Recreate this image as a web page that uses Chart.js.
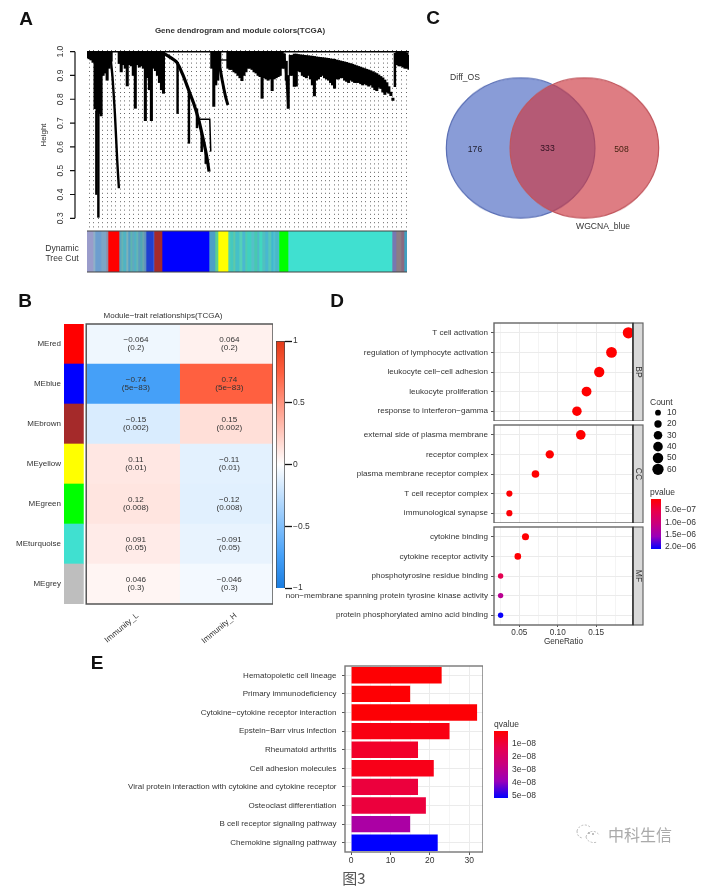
<!DOCTYPE html>
<html>
<head>
<meta charset="utf-8">
<title>图3</title>
<script src="https://cdn.jsdelivr.net/npm/chart.js@4/dist/chart.umd.min.js"></script>
<style>
  html, body { margin: 0; padding: 0; background: #fff; }
  #page { position: relative; width: 714px; height: 892px; overflow: hidden; filter: blur(.35px); }
  #page canvas { position: absolute; }
  .lbl { position: absolute; white-space: nowrap; font-family: "Liberation Sans", Arial, sans-serif; color: #333; line-height: 1; }
</style>
</head>
<body>
<div id="page"></div>
<script>
// A: dendrogram heights, every 2 positions
const dendroX = [0,2,4,6,8,10,12,14,16,18,20,22,24,
  32,34,36,38,40,42,44,46,48,50,52,54,56,58,60,62,64,66,68,70,72,74,76,
  124,126,128,130,132,
  140,142,144,146,148,150,152,154,156,158,160,162,164,166,168,170,172,174,176,178,180,182,184,186,188,190,192,194,196,198,200,202,204,
  206,208,210,212,214,216,218,220,222,224,226,228,230,232,234,236,238,240,242,244,246,248,250,252,254,256,258,260,262,264,266,268,270,272,274,276,278,280,282,284,286,288,290,292,294,296,298,300,302,304,
  308,310,312,314,316,318,320];
const dendroHigh = [1,1,1,1,1,1,1,1,1,1,1,1,1,
  1,1,1,1,1,1,1,1,1,1,1,1,1,1,1,1,1,1,1,1,1,1,1,
  1,1,1,1,1,
  1,1,1,1,1,1,1,1,1,1,1,1,1,1,1,1,1,1,1,1,1,1,1,1,1,1,1,1,.99,.96,.9,.985,.985,
  .99,.99,.988,.987,.986,.985,.984,.983,.982,.981,.98,.978,.977,.976,.975,.974,.973,.972,.97,.969,.968,.965,.963,.961,.959,.957,.955,.952,.95,.947,.944,.941,.938,.935,.932,.929,.926,.923,.92,.916,.912,.908,.902,.896,.89,.881,.87,.853,.83,.805,
  1,1,1,1,1,.995,.985];
const dendroLow = [.975,.97,.965,.955,.76,.75,.74,.73,.9,.91,.88,.93,.96,
  .95,.915,.945,.93,.856,.945,.94,.9,.762,.945,.935,.94,.93,.71,.89,.84,.71,.93,.92,.9,.87,.84,.825,
  .93,.77,.86,.88,.94,
  .93,.925,.925,.915,.91,.9,.89,.878,.9,.915,.93,.93,.925,.915,.91,.9,.895,.804,.89,.885,.88,.885,.836,.885,.89,.895,.9,.93,.93,.88,.762,.9,.9,
  .854,.855,.92,.915,.9,.895,.89,.9,.885,.86,.814,.88,.885,.895,.9,.89,.885,.88,.87,.86,.846,.885,.885,.89,.89,.88,.875,.87,.88,.875,.87,.87,.87,.865,.86,.865,.86,.855,.86,.85,.84,.836,.85,.845,.83,.82,.83,.825,.815,.795,
  .945,.94,.94,.935,.93,.93,.925];
// long single branches hanging off the tree
const spikeX = [9.3,11.3,90,101.3,109.3,114,118,306];
const spikeHigh = [.75,.75,.955,.84,.76,.66,.58,.993];
const spikeLow = [.4,.304,.74,.615,.68,.58,.53,.853];
// curved branches: positions and heights
const branchLeftX = [23.3,25.3,27.7,30,31.7];
const branchLeftH = [.979,.895,.741,.545,.426];
const branchMidX = [76,82.7,89.3,95.3,101,106,111,116,119.3,121.3];
const branchMidH = [.993,.976,.955,.902,.839,.783,.713,.622,.552,.496];
const branchHookX = [111,122,123];
const branchHookH = [.716,.716,.58];
const branchRightX = [130,134.3,137.7,140];
const branchRightH = [.986,.881,.811,.776];
const branchBarX = [132.7,146];
const branchBarH = [.965,.965];
const branchWedgeX = [196,198,200];
const branchWedgeH = [.993,.895,.762];
const heightTicks = [.3,.4,.5,.6,.7,.8,.9,1];
// A: module colour strip, widths along the tree
const treeCutWidths = [6,2,6,5,2,11,
  2,2,3,2,2,2,2,2,2,2,2,2,2,
  7,1,8,47,6,3,10,
  2,3,2,4,3,3,2,4,3,3,2,3,3,3,3,2,2,3,1,9,104,4,5,3,3];
const treeCutColors = ['#9a9ccb','#8fb0c8','#6d9ecf','#7ca5c7','#8d8fa8','#ff0000',
  '#5aa5bf','#66b4b4','#4fb3c4','#7fb0b8','#4f9fc8','#5fb4b0','#60a8c0','#4fb3c4','#66b4b4','#5c9cc0','#4fa8b4','#6aa5b0','#5f8fc0',
  '#1f3fd0','#4a60d0','#a52a2a','#0000ff','#4c9fc8','#5ccf90','#ffff00',
  '#50d0b0','#45c8c0','#60c8a8','#45c0c8','#55d0b8','#4ab8d0','#50ccb0','#40d0c0','#55c0c8','#48c8b0','#50b8c8','#40d8c0','#50c0c0','#48b8d0','#55c8b8','#40b8d0','#50c0d0','#4ab8c8','#48c0c8','#00ff00','#40e0d0','#7878b0','#8d7d85','#8a6a80','#40a0c0'];

// B: module-trait heatmap
const modules = ['MEred','MEblue','MEbrown','MEyellow','MEgreen','MEturquoise','MEgrey'];
const moduleColors = ['#ff0000','#0000ff','#a52a2a','#ffff00','#00ff00','#40e0d0','#bebebe'];
const traits = ['Immunity_L','Immunity_H'];
const corrL = [-.064,-.74,-.15,.11,.12,.091,.046];
const corrH = [.064,.74,.15,-.11,-.12,-.091,-.046];
const corrTextL = ['−0.064','−0.74','−0.15','0.11','0.12','0.091','0.046'];
const corrTextH = ['0.064','0.74','0.15','−0.11','−0.12','−0.091','−0.046'];
const pTextB = ['(0.2)','(5e−83)','(0.002)','(0.01)','(0.008)','(0.05)','(0.3)'];
const corrTicks = [-1,-.5,0,.5,1];

// C: venn
const vennSets = ['Diff_OS','WGCNA_blue'];
const vennCounts = [176,333,508];

// D: enrichment dot plot, one set of arrays per facet
const bpTerms = ['T cell activation','regulation of lymphocyte activation','leukocyte cell−cell adhesion','leukocyte proliferation','response to interferon−gamma'];
const bpRatio = [.192,.170,.154,.1375,.125];
const bpCount = [60,53,48,43,39];
const bpP = [1e-12,2e-12,3e-12,5e-12,1e-11];
const ccTerms = ['external side of plasma membrane','receptor complex','plasma membrane receptor complex','T cell receptor complex','immunological synapse'];
const ccRatio = [.130,.0896,.071,.037,.037];
const ccCount = [41,28,22,12,12];
const ccP = [1e-10,5e-10,1e-9,2e-8,4e-8];
const mfTerms = ['cytokine binding','cytokine receptor activity','phosphotyrosine residue binding','non−membrane spanning protein tyrosine kinase activity','protein phosphorylated amino acid binding'];
const mfRatio = [.058,.048,.0256,.0256,.0256];
const mfCount = [18,15,8,8,8];
const mfP = [1e-8,2e-8,5.5e-7,1.2e-6,2.05e-6];
const ratioTicks = [.025,.05,.075,.1,.125,.15,.175];
const countLevels = [10,20,30,40,50,60];
const pTicks = [5e-7,1e-6,1.5e-6,2e-6];
const pTickText = ['5.0e−07','1.0e−06','1.5e−06','2.0e−06'];

// E: KEGG bars
const keggTerms = ['Hematopoietic cell lineage','Primary immunodeficiency','Cytokine−cytokine receptor interaction','Epstein−Barr virus infection','Rheumatoid arthritis','Cell adhesion molecules','Viral protein interaction with cytokine and cytokine receptor','Osteoclast differentiation','B cell receptor signaling pathway','Chemokine signaling pathway'];
const keggCount = [23,15,32,25,17,21,17,19,15,22];
const keggQ = [5e-10,7e-10,9e-10,3e-9,7e-9,4e-9,1e-8,1e-8,3.4e-8,5.15e-8];
const qTicks = [1e-8,2e-8,3e-8,4e-8,5e-8];
const qTickText = ['1e−08','2e−08','3e−08','4e−08','5e−08'];

Chart.defaults.animation = false;
Chart.defaults.responsive = false;
Chart.defaults.font.family = '"Liberation Sans", Arial, sans-serif';
Chart.defaults.color = '#333';
Chart.defaults.plugins.legend.display = false;
Chart.defaults.plugins.tooltip.enabled = false;

const page = document.getElementById('page');

function label(text, x, y, o) {
  o = o || {};
  const el = document.createElement('div');
  el.className = 'lbl';
  el.textContent = text;
  el.style.left = x + 'px';
  el.style.top = y + 'px';
  el.style.fontSize = (o.size || 9) + 'px';
  if (o.color) el.style.color = o.color;
  if (o.bold) el.style.fontWeight = 'bold';
  if (o.family) el.style.fontFamily = o.family;
  el.style.transform = 'translate(' + (o.shift || '-50%') + ',-50%) rotate(' + (o.rot || 0) + 'deg)';
  page.appendChild(el);
}

// fixes a scale's band so the plot area lands where we want it
const fixSize = n => s => {
  if (s.isHorizontal()) s.height = n; else s.width = n;
  s.paddingLeft = s.paddingRight = s.paddingTop = s.paddingBottom = 0;
};

// a = plot area in page pixels, m = room around it for axes
function addChart(a, m, cfg) {
  const c = document.createElement('canvas');
  c.width = a.r - a.l + m.l + m.r;
  c.height = a.b - a.t + m.t + m.b;
  c.style.left = (a.l - m.l) + 'px';
  c.style.top = (a.t - m.t) + 'px';
  page.appendChild(c);
  cfg.options = cfg.options || {};
  cfg.options.maintainAspectRatio = false;
  cfg.options.layout = { autoPadding: false, padding: { top: m.t, left: m.padLeft || 0, right: m.padRight || 0, bottom: m.padBottom || 0 } };
  return { canvas: c, chart: new Chart(c, cfg) };
}

const setTicks = vals => s => { s.ticks = vals.map(v => ({ value: v })); };

function mix(c1, c2, t) {
  const a = c1.match(/\w\w/g).map(h => parseInt(h, 16));
  const b = c2.match(/\w\w/g).map(h => parseInt(h, 16));
  return 'rgb(' + a.map((v, i) => Math.round(v + (b[i] - v) * t)).join(',') + ')';
}
function ramp(stops, cols, v) {
  for (let i = 1; i < stops.length; i++) {
    if (v <= stops[i]) return mix(cols[i - 1], cols[i], (v - stops[i - 1]) / (stops[i] - stops[i - 1]));
  }
  return mix(cols[cols.length - 1], cols[cols.length - 1], 0);
}
const corrStops = [-1,-.74,0,.74,1];
const corrCols = ['#1a7de0','#45a0f8','#ffffff','#ff6040','#e33a18'];
const corrColor = v => ramp(corrStops, corrCols, v);
const enrichStops = [0,.25,.5,.75,1];
const enrichCols = ['#ff0000','#e7004e','#c8007f','#9a00b9','#0000ff'];
const pColor = p => ramp(enrichStops, enrichCols, Math.min(p / 2.08e-6, 1));
const qColor = q => ramp(enrichStops, enrichCols, Math.min(q / 5.15e-8, 1));

// gray box round a plot
const framePlugin = color => ({
  id: 'frame',
  afterDatasetsDraw(chart) {
    const a = chart.chartArea, g = chart.ctx;
    g.save();
    g.strokeStyle = color;
    g.lineWidth = 1.4;
    g.strokeRect(a.left, a.top, a.right - a.left, a.bottom - a.top);
    g.restore();
  }
});

// vertical gradient legend bar, also used for the correlation scale
function colorBar(a, lo, hi, stops, cols, ticks, tickText, tickOpts) {
  addChart(a, { l: 0, r: 40, t: 6, b: 6, padBottom: 6 }, {
    type: 'bar',
    data: { labels: [''], datasets: [{
      data: [[lo, hi]],
      barPercentage: 1, categoryPercentage: 1,
      backgroundColor(ctx) {
        const ch = ctx.chart;
        if (!ch.chartArea) return 'transparent';
        const y = ch.scales.y;
        const g = ch.ctx.createLinearGradient(0, y.getPixelForValue(lo), 0, y.getPixelForValue(hi));
        stops.forEach((s, i) => g.addColorStop(s, cols[i]));
        return g;
      },
      borderColor: '#444',
      borderWidth: tickOpts.outline ? 1 : 0
    }] },
    options: { scales: {
      x: { display: false },
      y: {
        position: 'right', min: lo, max: hi, reverse: !!tickOpts.reverse,
        afterBuildTicks: setTicks(ticks), afterFit: fixSize(40),
        border: { display: false },
        grid: { drawOnChartArea: false, drawTicks: tickOpts.len > 0, tickLength: tickOpts.len, tickColor: '#111', tickWidth: 1.3 },
        ticks: { autoSkip: false, padding: tickOpts.pad, font: { size: 8.5 }, callback: (v, i) => tickText[i] }
      }
    } }
  });
}

// ---- Panel A ----
label('A', 26, 18, { size: 19, bold: true, color: '#111' });
label('Gene dendrogram and module colors(TCGA)', 240, 31, { size: 8, bold: true });
label('Height', 44, 135, { size: 8, rot: -90 });
label('Dynamic', 62, 248, { size: 8.6 });
label('Tree Cut', 62, 258, { size: 8.6 });

const toXY = (xs, ys) => xs.map((x, i) => ({ x: x, y: ys[i] }));
const branch = (xs, ys, w) => ({ type: 'line', data: toXY(xs, ys), borderColor: '#000', borderWidth: w, pointRadius: 0, tension: .25, clip: false });

addChart({ l: 87, r: 407, t: 50, b: 229 }, { l: 47, r: 2, t: 6, b: 0 }, {
  type: 'bar',
  data: { datasets: [
    { type: 'line', data: toXY([0, 320], [1, 1]), borderColor: '#000', borderWidth: 1.5, pointRadius: 0 },
    branch(branchLeftX, branchLeftH, 2.4),
    branch(branchMidX, branchMidH, 3.2),
    { ...branch(branchHookX, branchHookH, 1.5), tension: 0 },
    branch(branchRightX, branchRightH, 3),
    branch(branchBarX, branchBarH, 1.3),
    branch(branchWedgeX, branchWedgeH, 2),
    { data: dendroX.map((x, i) => ({ x: x, y: [dendroLow[i], dendroHigh[i]] })), backgroundColor: '#000', barThickness: 2.4, grouped: false },
    { data: spikeX.map((x, i) => ({ x: x, y: [spikeLow[i], spikeHigh[i]] })), backgroundColor: '#000', barThickness: 1.8, grouped: false }
  ] },
  options: { scales: {
    x: {
      type: 'linear', min: 0, max: 320, offset: false,
      afterFit: fixSize(0),
      ticks: { display: false, stepSize: 4.43, autoSkip: false },
      border: { display: false, dash: [1, 3.2] },
      grid: { color: '#555', lineWidth: .9, drawTicks: false }
    },
    y: {
      min: .255, max: 1.007,
      afterBuildTicks: setTicks(heightTicks), afterFit: fixSize(47),
      border: { display: false },
      grid: { drawOnChartArea: false, drawTicks: false },
      ticks: { autoSkip: false, minRotation: 90, maxRotation: 90, crossAlign: 'center', padding: 20, font: { size: 8.5 }, callback: v => v.toFixed(1) }
    }
  } },
  plugins: [{
    // the R axis stops at the last tick and sits away from the plot
    id: 'heightAxis',
    afterDraw(chart) {
      const y = chart.scales.y, g = chart.ctx, x0 = chart.chartArea.left - 12;
      g.save();
      g.strokeStyle = '#111';
      g.lineWidth = 1.2;
      g.beginPath();
      g.moveTo(x0, y.getPixelForValue(.3));
      g.lineTo(x0, y.getPixelForValue(1));
      heightTicks.forEach(v => {
        g.moveTo(x0, y.getPixelForValue(v));
        g.lineTo(x0 - 5, y.getPixelForValue(v));
      });
      g.stroke();
      g.restore();
    }
  }]
});

addChart({ l: 87, r: 407, t: 231, b: 272 }, { l: 0, r: 0, t: 1, b: 1, padBottom: 1 }, {
  type: 'bar',
  data: { labels: ['Dynamic Tree Cut'], datasets: treeCutWidths.map((w, i) => ({
    data: [w], backgroundColor: treeCutColors[i], stack: 'cut', barPercentage: 1, categoryPercentage: 1
  })) },
  options: {
    indexAxis: 'y',
    scales: {
      x: { display: false, stacked: true, min: 0, max: 320 },
      y: { display: false, stacked: true }
    }
  },
  plugins: [{
    id: 'cutEdges',
    afterDatasetsDraw(chart) {
      const a = chart.chartArea, g = chart.ctx;
      g.save();
      g.strokeStyle = '#444';
      g.lineWidth = 1.2;
      g.beginPath();
      g.moveTo(a.left, a.top); g.lineTo(a.right, a.top);
      g.moveTo(a.left, a.bottom); g.lineTo(a.right, a.bottom);
      g.stroke();
      g.restore();
    }
  }]
});

// ---- Panel B ----
label('B', 25, 300, { size: 19, bold: true, color: '#111' });
label('Module−trait relationships(TCGA)', 163, 315.5, { size: 8 });

addChart({ l: 64, r: 271, t: 324, b: 604 }, { l: 60, r: 2, t: 2, b: 48 }, {
  type: 'bar',
  data: { labels: modules, datasets: [
    { data: modules.map(() => [-.238, -.03]), backgroundColor: moduleColors, grouped: false, barPercentage: 1, categoryPercentage: 1 },
    { data: modules.map(() => [0, 1]), backgroundColor: corrL.map(corrColor), grouped: false, barPercentage: 1, categoryPercentage: 1 },
    { data: modules.map(() => [1, 2]), backgroundColor: corrH.map(corrColor), grouped: false, barPercentage: 1, categoryPercentage: 1 }
  ] },
  options: {
    indexAxis: 'y',
    scales: {
      x: {
        min: -.238, max: 2,
        afterBuildTicks: setTicks([.55, 1.6]), afterFit: fixSize(48),
        border: { display: false },
        grid: { display: false, drawTicks: false },
        ticks: { autoSkip: false, minRotation: 40, maxRotation: 40, padding: 7, font: { size: 8 }, callback: (v, i) => traits[i] }
      },
      y: {
        afterFit: fixSize(60),
        border: { display: false },
        grid: { display: false, drawTicks: false },
        ticks: { padding: 3, font: { size: 8 } }
      }
    }
  },
  plugins: [{
    id: 'heatCells',
    afterDatasetsDraw(chart) {
      const g = chart.ctx, xs = chart.scales.x, ys = chart.scales.y;
      g.save();
      g.strokeStyle = '#555';
      g.lineWidth = 1.5;
      g.strokeRect(xs.getPixelForValue(0), chart.chartArea.top, xs.getPixelForValue(2) - xs.getPixelForValue(0), chart.chartArea.bottom - chart.chartArea.top);
      g.fillStyle = '#333';
      g.font = '8.1px "Liberation Sans", Arial, sans-serif';
      g.textAlign = 'center';
      g.textBaseline = 'middle';
      modules.forEach((m, i) => {
        const y = ys.getPixelForValue(i);
        [corrTextL, corrTextH].forEach((col, j) => {
          const x = xs.getPixelForValue(j + .5) + 3;
          g.fillText(col[i], x, y - 4.5);
          g.fillText(pTextB[i], x, y + 3.8);
        });
      });
      g.restore();
    }
  }]
});

colorBar({ l: 276, r: 285, t: 341, b: 588 }, -1, 1,
  [0, .13, .5, .87, 1], corrCols,
  corrTicks, ['−1', '−0.5', '0', '0.5', '1'], { len: 7, pad: 1, outline: true });

// ---- Panel C ----
label('C', 433, 17, { size: 19, bold: true, color: '#111' });
// first dataset is painted last, so red goes over blue
const venn = addChart({ l: 440, r: 665, t: 68, b: 228 }, { l: 0, r: 0, t: 0, b: 0 }, {
  type: 'scatter',
  data: { datasets: [
    { data: [{ x: 1, y: 0 }], pointRadius: 74.3, backgroundColor: 'rgba(205,55,65,.65)', borderColor: '#c0555c', borderWidth: 1.2, clip: false },
    { data: [{ x: -1, y: 0 }], pointRadius: 74.3, backgroundColor: 'rgba(65,95,190,.62)', borderColor: '#5a6fb5', borderWidth: 1.2, clip: false }
  ] },
  options: { scales: {
    x: { display: false, min: -3.53, max: 3.53 },
    y: { display: false, min: -1, max: 1 }
  } }
});
venn.canvas.style.transform = 'scaleY(.942)';
label(vennSets[0], 465, 76.5, { size: 8.6 });
label(vennSets[1], 603, 225.5, { size: 8.6 });
label(String(vennCounts[0]), 475, 148.5, { size: 8.6, color: '#223' });
label(String(vennCounts[1]), 547.5, 148, { size: 8.6, color: '#301020' });
label(String(vennCounts[2]), 621.5, 148.5, { size: 8.6, color: '#421' });

// ---- Panel D ----
label('D', 337, 300, { size: 19, bold: true, color: '#111' });
const countRadius = c => 1 + .6 * Math.sqrt(c);

function facet(name, terms, ratio, counts, ps, a, lastRow) {
  addChart(a, { l: 220, r: 12, t: 2, b: lastRow ? 22 : 0, padRight: 12 }, {
    type: 'scatter',
    data: { datasets: [{
      data: ratio.map((r, i) => ({ x: r, y: terms[i] })),
      pointRadius: counts.map(countRadius),
      pointBackgroundColor: ps.map(pColor),
      pointBorderWidth: 0,
      clip: false
    }] },
    options: { scales: {
      x: {
        min: .017, max: .198,
        afterBuildTicks: setTicks(ratioTicks), afterFit: fixSize(lastRow ? 22 : 0),
        border: { display: false },
        title: { display: !!lastRow, text: 'GeneRatio', padding: 0, font: { size: 8.2 } },
        grid: {
          color: c => (c.tick && Math.round(c.tick.value * 1000) % 50 ? '#f4f4f4' : '#ebebeb'),
          drawTicks: !!lastRow, tickLength: 2,
          tickColor: c => (c.tick && Math.round(c.tick.value * 1000) % 50 ? 'transparent' : '#555')
        },
        ticks: {
          display: !!lastRow, autoSkip: false, padding: 1, font: { size: 8.2 },
          callback: v => (Math.round(v * 1000) % 50 ? '' : v.toFixed(2))
        }
      },
      y: {
        type: 'category', labels: terms, offset: true,
        afterFit: fixSize(220),
        border: { display: false },
        grid: { color: '#ebebeb', offset: false, tickLength: 3, tickColor: '#555' },
        ticks: { autoSkip: false, padding: 3, font: { size: 8.1 } }
      }
    } },
    plugins: [framePlugin('#666'), {
      id: 'facetStrip',
      afterDraw(chart) {
        const r = chart.chartArea, g = chart.ctx;
        g.save();
        g.fillStyle = '#d9d9d9';
        g.fillRect(r.right, r.top, 10, r.bottom - r.top);
        g.strokeStyle = '#666';
        g.lineWidth = 1.2;
        g.strokeRect(r.right, r.top, 10, r.bottom - r.top);
        g.strokeStyle = '#222';
        g.beginPath();
        g.moveTo(r.right, r.top);
        g.lineTo(r.right, r.bottom);
        g.stroke();
        g.translate(r.right + 5, (r.top + r.bottom) / 2);
        g.rotate(Math.PI / 2);
        g.fillStyle = '#333';
        g.font = '8.5px "Liberation Sans", Arial, sans-serif';
        g.textAlign = 'center';
        g.textBaseline = 'middle';
        g.fillText(name, 0, 0);
        g.restore();
      }
    }]
  });
}
facet('BP', bpTerms, bpRatio, bpCount, bpP, { l: 494, r: 633, t: 323, b: 421 });
facet('CC', ccTerms, ccRatio, ccCount, ccP, { l: 494, r: 633, t: 425, b: 523 });
facet('MF', mfTerms, mfRatio, mfCount, mfP, { l: 494, r: 633, t: 527, b: 625 }, true);

label('Count', 650, 402, { size: 8.5, shift: '0' });
addChart({ l: 651, r: 665, t: 407, b: 475 }, { l: 0, r: 30, t: 2, b: 2, padBottom: 2 }, {
  type: 'scatter',
  data: { datasets: [{
    data: countLevels.map(c => ({ x: 0, y: String(c) })),
    pointRadius: countLevels.map(countRadius),
    pointBackgroundColor: '#000',
    pointBorderWidth: 0,
    clip: false
  }] },
  options: { scales: {
    x: { display: false, min: -1, max: 1 },
    y: {
      type: 'category', labels: countLevels.map(String), offset: true, position: 'right',
      afterFit: fixSize(30),
      border: { display: false },
      grid: { display: false, drawTicks: false },
      ticks: { autoSkip: false, padding: 2, font: { size: 8.5 } }
    }
  } }
});

label('pvalue', 650, 492, { size: 8.5, shift: '0' });
colorBar({ l: 651, r: 661, t: 499, b: 549 }, 5.6e-8, 2.08e-6,
  enrichStops, enrichCols, pTicks, pTickText, { len: 0, pad: 4, reverse: true });

// ---- Panel E ----
label('E', 97, 662, { size: 19, bold: true, color: '#111' });
addChart({ l: 345, r: 481, t: 666, b: 852 }, { l: 255, r: 2, t: 2, b: 18 }, {
  type: 'bar',
  data: { labels: keggTerms, datasets: [{
    data: keggCount,
    backgroundColor: keggQ.map(qColor),
    barPercentage: .88, categoryPercentage: 1
  }] },
  options: {
    indexAxis: 'y',
    scales: {
      x: {
        min: -1.54, max: 33.5,
        afterBuildTicks: setTicks([0, 5, 10, 15, 20, 25, 30]), afterFit: fixSize(18),
        border: { display: false },
        grid: {
          color: c => (c.tick && c.tick.value % 10 ? '#f5f5f5' : '#ebebeb'),
          tickLength: 3,
          tickColor: c => (c.tick && c.tick.value % 10 ? 'transparent' : '#555')
        },
        ticks: { autoSkip: false, padding: 1, font: { size: 8.5 }, callback: v => (v % 10 ? '' : v) }
      },
      y: {
        afterFit: fixSize(255),
        border: { display: false },
        grid: { color: '#ebebeb', offset: false, tickLength: 3, tickColor: '#555' },
        ticks: { autoSkip: false, padding: 5.5, font: { size: 8 } }
      }
    }
  },
  plugins: [framePlugin('#777')]
});

label('qvalue', 494, 724, { size: 8.5, shift: '0' });
colorBar({ l: 494, r: 508, t: 731, b: 798 }, 7.7e-10, 5.15e-8,
  enrichStops, enrichCols, qTicks, qTickText, { len: 0, pad: 4, reverse: true });

// caption and watermark
label('图3', 354, 877, { size: 15, color: '#555', family: '"Noto Sans CJK SC"' });
label('中科生信', 640, 834, { size: 16, color: '#aaa', family: '"Noto Sans CJK SC"' });
const mark = document.createElementNS('http://www.w3.org/2000/svg', 'svg');
mark.setAttribute('width', '28');
mark.setAttribute('height', '24');
mark.setAttribute('viewBox', '0 0 28 24');
mark.style.cssText = 'position:absolute;left:574px;top:823px';
mark.innerHTML = '<g fill="none" stroke="#bbb" stroke-width="1" stroke-dasharray="2 1.5"><path d="M3 8 A8 8 0 0 1 17 5"/><path d="M3 8 C3 13 6 15 9 15"/><path d="M12 14 A8 7 0 0 0 23 19 M12 14 A7 7 0 0 1 25 12"/></g><circle cx="15" cy="10" r="1" fill="#aaa"/><circle cx="19" cy="11" r="1" fill="#aaa"/>';
page.appendChild(mark);
</script>
</body>
</html>
